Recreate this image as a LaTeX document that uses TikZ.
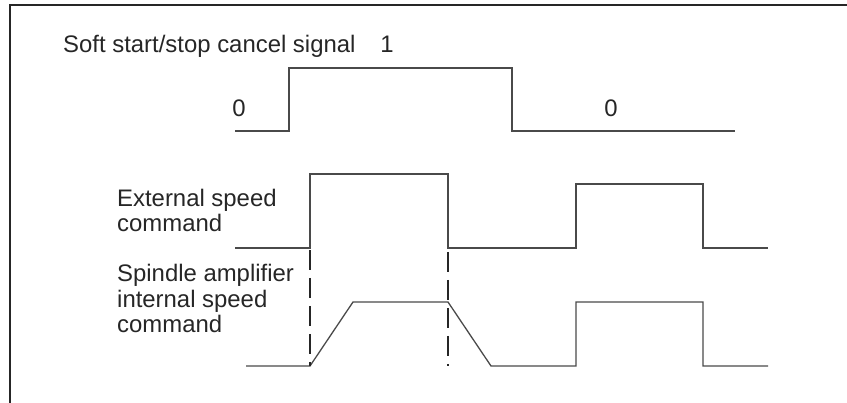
\documentclass[tikz,border=0pt]{standalone}
\usepackage{fontspec}
\setmainfont{Liberation Sans}
\usepackage{tikz}
\definecolor{Ink}{HTML}{262626}
\definecolor{Trace}{HTML}{4A4A4A}
\tikzset{
  frameline/.style={draw=Ink,line width=1.8pt},
  wave/.style={draw=Trace,line width=1.3pt,line join=miter},
  marker/.style={draw=Ink,line width=1.2pt,dash pattern=on 20pt off 8pt},
  label/.style={text=Ink,inner sep=0pt,align=left,font=\fontsize{23.9}{25.5}\selectfont},
  level/.style={text=Ink,inner sep=0pt,font=\fontsize{23.9}{25.5}\selectfont}
}
\begin{document}
\begin{tikzpicture}[x=1pt,y=-1pt]
    \useasboundingbox (0,0) rectangle (847,403);
    % open frame
    \draw[frameline] (847,5) -- (10,5) -- (10,403);
    % cancel signal
    \node[label,anchor=base west] (cancel) at (63,53) {Soft start/stop cancel signal};
    \node[level,anchor=base] (hi) at (387,53) {1};
    \node[level,anchor=base] (lo1) at (239,117) {0};
    \node[level,anchor=base] (lo2) at (611,117) {0};
    \draw[wave] (235,131) -- (289,131) -- (289,68) -- (512,68) -- (512,131) -- (735,131);
    % external speed command
    \node[label,anchor=base west] (ext) at (117,232) {External speed\\command};
    \draw[wave] (235,248) -- (310,248) -- (310,174) -- (448,174) -- (448,248)
      -- (576,248) -- (576,184) -- (703,184) -- (703,248) -- (768,248);
    % internal speed command
    \node[label,anchor=base west] (int) at (117,333) {Spindle amplifier\\internal speed\\command};
    \draw[wave] (246,366) -- (310,366) -- (353,302) -- (448,302) -- (491,366)
      -- (576,366) -- (576,302) -- (703,302) -- (703,366) -- (768,366);
    % timing markers
    \draw[marker] (310,250) -- (310,366);
    \draw[marker] (448,252) -- (448,366);
  \end{tikzpicture}
\end{document}
